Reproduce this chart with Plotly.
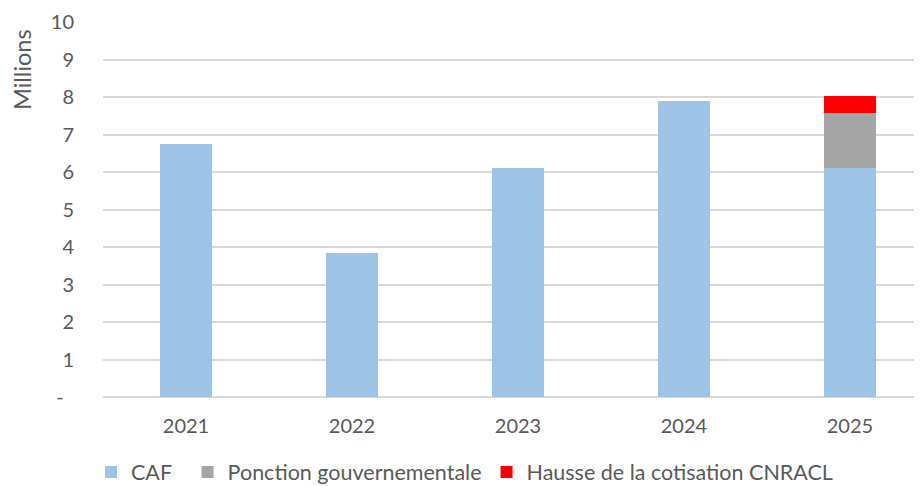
import plotly.graph_objects as go

years = ["2021", "2022", "2023", "2024", "2025"]
caf = [6.75, 3.84, 6.10, 7.89, 6.10]
ponction = [0, 0, 0, 0, 1.47]
hausse = [0, 0, 0, 0, 0.46]
y_ticks = [0, 1, 2, 3, 4, 5, 6, 7, 8, 9, 10]
y_ticktext = ["-\u00a0\u00a0", "1", "2", "3", "4", "5", "6", "7", "8", "9", "10"]
series_names = ["CAF\u00a0\u00a0", "Ponction gouvernementale", "Hausse de la cotisation CNRACL"]

font_color = "#595959"
fam = "Lato, 'Open Sans', sans-serif"

# page body has an 8px margin: figure is sized/offset to compensate
W, H = 914, 478

fig = go.Figure()
fig.add_bar(x=years, y=caf, name=series_names[0], marker_color="#9DC3E6", marker_line_width=0)
fig.add_bar(x=years, y=ponction, name=series_names[1], marker_color="#A5A5A5", marker_line_width=0)
fig.add_bar(x=years, y=hausse, name=series_names[2], marker_color="#FF0000", marker_line_width=0)

fig.update_layout(
    barmode="stack",
    bargap=0.69,
    width=W, height=H,
    margin=dict(l=95, r=0, t=14, b=89, autoexpand=False),
    paper_bgcolor="white", plot_bgcolor="white",
    font=dict(family=fam, color=font_color, size=20),
    showlegend=True,
    legend=dict(orientation="h", xref="container", x=(91 - 8) / W, xanchor="left",
                yref="container", y=(486 - 472) / H, yanchor="middle",
                font=dict(size=21.5, color=font_color), itemwidth=30, traceorder="normal"),
    xaxis=dict(type="category", range=[-0.5, 4.434], showgrid=False, showline=False, automargin=False,
               ticks="", ticklabelstandoff=15, tickfont=dict(size=20, color=font_color)),
    yaxis=dict(range=[0, 10], tickvals=y_ticks, ticktext=y_ticktext, showgrid=True, automargin=False,
               gridcolor="#D9D9D9", gridwidth=1.5, zeroline=True, zerolinecolor="#D9D9D9",
               zerolinewidth=1.5, ticks="", ticklabelstandoff=28,
               tickfont=dict(size=20, color=font_color)),
)

fig.add_annotation(text="Millions", textangle=-90, xref="paper", yref="paper",
                   x=(22 - 103) / 819, y=(397 - 70) / 375, xanchor="center", yanchor="middle",
                   showarrow=False, font=dict(size=23.5, color=font_color, family=fam))

fig.write_html("out.html")
